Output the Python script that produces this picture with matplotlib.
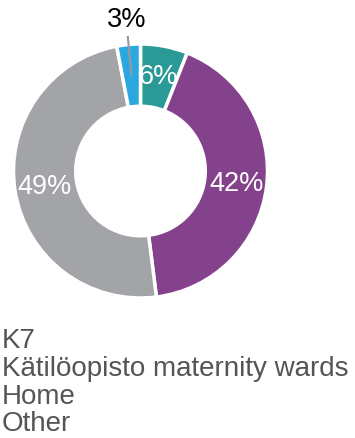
import numpy as np
import matplotlib.pyplot as plt

plt.rcParams['font.family'] = ['Liberation Sans', 'DejaVu Sans']

labels = ['K7', 'Kätilöopisto maternity wards', 'Home', 'Other']
values = [6, 42, 49, 3]
colors = ['#2a9a96', '#84418c', '#a3a4a8', '#2ba8e0']

W, H = 355, 439
fig = plt.figure(figsize=(W / 100, H / 100), dpi=100)

# donut centre and radius in pixels
cx, cy, R = 140.5, 172, 127
ax = fig.add_axes([(cx - R) / W, (H - cy - R) / H, 2 * R / W, 2 * R / H])

wedges, _ = ax.pie(values, colors=colors, startangle=90, counterclock=False,
                   radius=1, wedgeprops=dict(width=0.49, edgecolor='white', linewidth=2.5))
ax.set_xlim(-1, 1)
ax.set_ylim(-1, 1)
ax.set_aspect('equal')
ax.axis('off')

for w, v in zip(wedges, values):
    ang = np.deg2rad((w.theta1 + w.theta2) / 2)
    if v >= 5:
        r = 0.765
        ax.text(r * np.cos(ang), r * np.sin(ang), f'{v}%', ha='center', va='center',
                color='white', fontsize=19.5)
    else:
        ax.plot([0.765 * np.cos(ang), 1.06 * np.cos(ang)],
                [0.765 * np.sin(ang), 1.06 * np.sin(ang)], color='#999999', lw=1.5,
                clip_on=False)
        ax.text(1.2 * np.cos(ang), 1.2 * np.sin(ang), f'{v}%', ha='center', va='center',
                color='black', fontsize=19.5, clip_on=False)

# legend entries (text only)
for i, lab in enumerate(labels):
    fig.text(2 / W, 1 - (348 + 27.8 * i) / H, lab, ha='left', va='baseline',
             color='#555555', fontsize=20)

fig.savefig('out.png', dpi=100)
